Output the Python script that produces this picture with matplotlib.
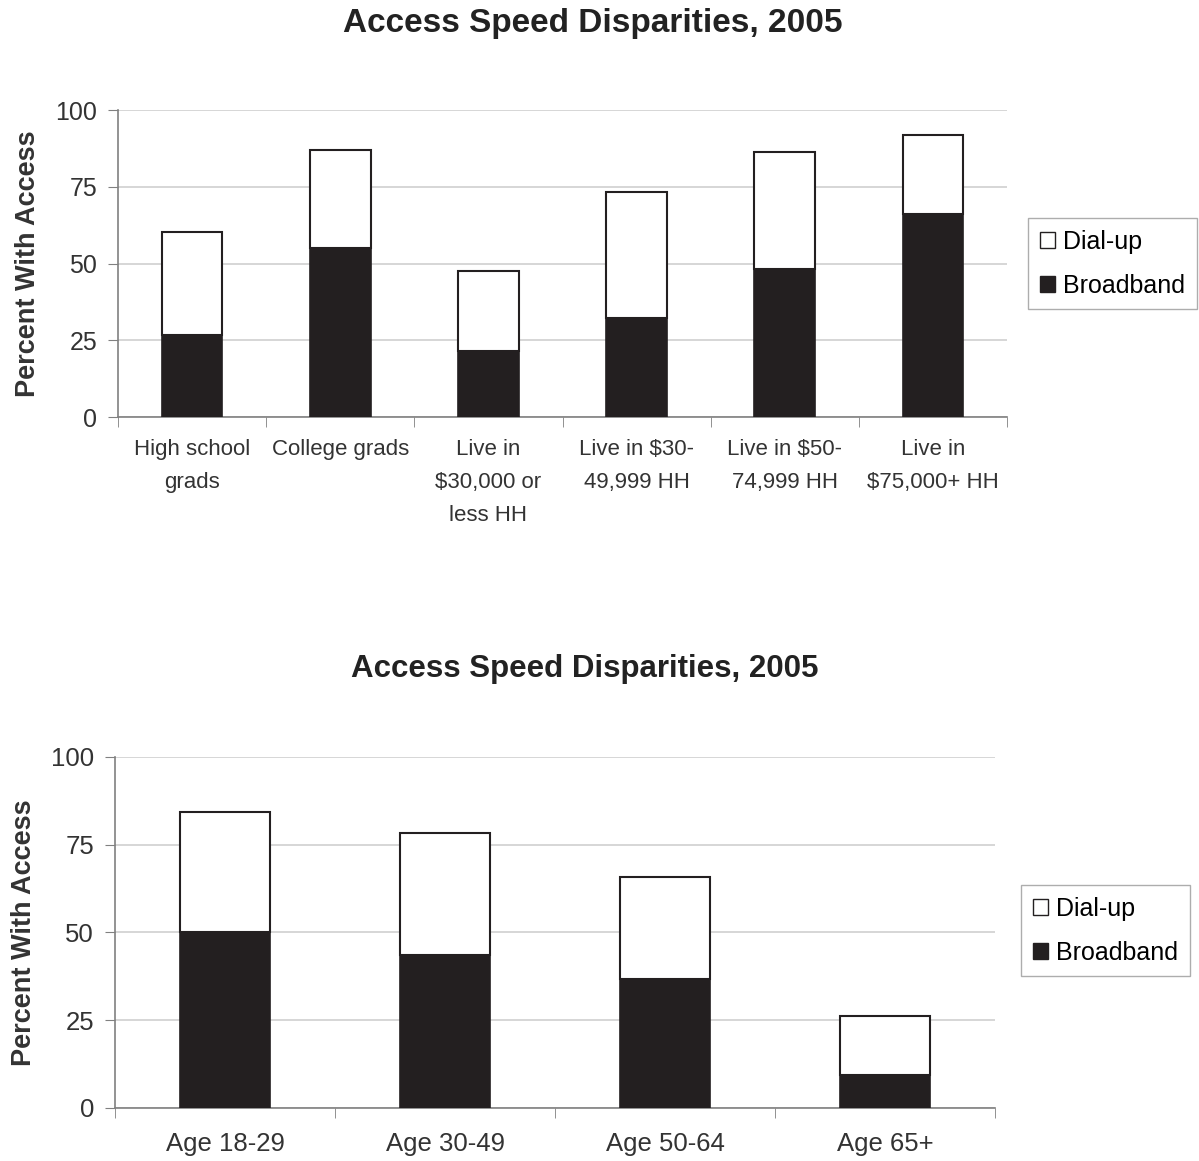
import numpy as np
import matplotlib
matplotlib.use("Agg")
import matplotlib.pyplot as plt
from matplotlib.patches import Patch

plt.rcParams['font.family'] = ['Liberation Sans', 'DejaVu Sans']

# top chart data
groups_top = ["High school\ngrads", "College grads", "Live in\n$30,000 or\nless HH",
              "Live in $30-\n49,999 HH", "Live in $50-\n74,999 HH", "Live in\n$75,000+ HH"]
broadband_top = [26.7, 55.0, 21.5, 32.2, 48.2, 66.1]
dialup_top = [33.6, 32.0, 26.1, 41.1, 38.1, 25.8]

# bottom chart data
groups_bot = ["Age 18-29", "Age 30-49", "Age 50-64", "Age 65+"]
broadband_bot = [50.1, 43.6, 36.8, 9.4]
dialup_bot = [34.2, 34.7, 29.0, 16.8]

yticks = [0, 25, 50, 75, 100]
title = "Access Speed Disparities, 2005"
dark = "#231f20"
grey = "#808080"


def stacked(ax, labels, bb, du, width, legend_anchor, xsize, xpad, ysize, legsize):
    x = np.arange(len(labels))
    ax.bar(x, bb, width, color=dark, edgecolor=dark, linewidth=1.2, zorder=3)
    ax.bar(x, du, width, bottom=bb, color="white", edgecolor=dark, linewidth=1.5, zorder=3)
    ax.set_xlim(-0.5, len(labels) - 0.5)
    ax.set_ylim(0, 100)
    ax.set_yticks(yticks)
    ax.set_xticks(x)
    ax.set_xticklabels(labels, fontsize=xsize, color="#333333", linespacing=1.75)
    ax.set_xticks(np.arange(len(labels) + 1) - 0.5, minor=True)
    ax.tick_params(axis="x", which="major", length=0, pad=xpad)
    ax.tick_params(axis="x", which="minor", length=7, color=grey, direction="out")
    ax.tick_params(axis="y", length=7, color=grey, labelsize=ysize, labelcolor="#333333", pad=8)
    ax.grid(axis="y", color="#d0d0d0", linewidth=1.2, zorder=0)
    for s in ["top", "right"]:
        ax.spines[s].set_visible(False)
    for s in ["left", "bottom"]:
        ax.spines[s].set_color(grey)
        ax.spines[s].set_linewidth(1.2)
    ax.set_ylabel("Percent With Access", fontsize=19.5, fontweight="bold", color="#333333", labelpad=10)
    handles = [Patch(facecolor="white", edgecolor=dark, label="Dial-up"),
               Patch(facecolor=dark, edgecolor=dark, label="Broadband")]
    ax.legend(handles=handles, loc="center left", bbox_to_anchor=legend_anchor,
              fontsize=legsize, frameon=True, fancybox=False, edgecolor="#999999",
              handlelength=0.6, handleheight=0.6, handletextpad=0.35,
              labelspacing=0.8, borderpad=0.45, borderaxespad=0)


fig = plt.figure(figsize=(11.99, 11.61), dpi=100)

ax1 = fig.add_axes([0.0984, 0.6408, 0.7415, 0.2644])
stacked(ax1, groups_top, broadband_top, dialup_top, 0.41, (1.024, 0.50), 16, 16, 18, 18)
fig.text(0.494, 0.980, title, ha="center", va="center", fontsize=24, fontweight="bold", color="#222222")

ax2 = fig.add_axes([0.0959, 0.0457, 0.734, 0.3023])
stacked(ax2, groups_bot, broadband_bot, dialup_bot, 0.41, (1.03, 0.505), 18.5, 17, 18.5, 18)
fig.text(0.488, 0.424, title, ha="center", va="center", fontsize=22.5, fontweight="bold", color="#222222")

fig.savefig("out.png", dpi=100, facecolor="white")
